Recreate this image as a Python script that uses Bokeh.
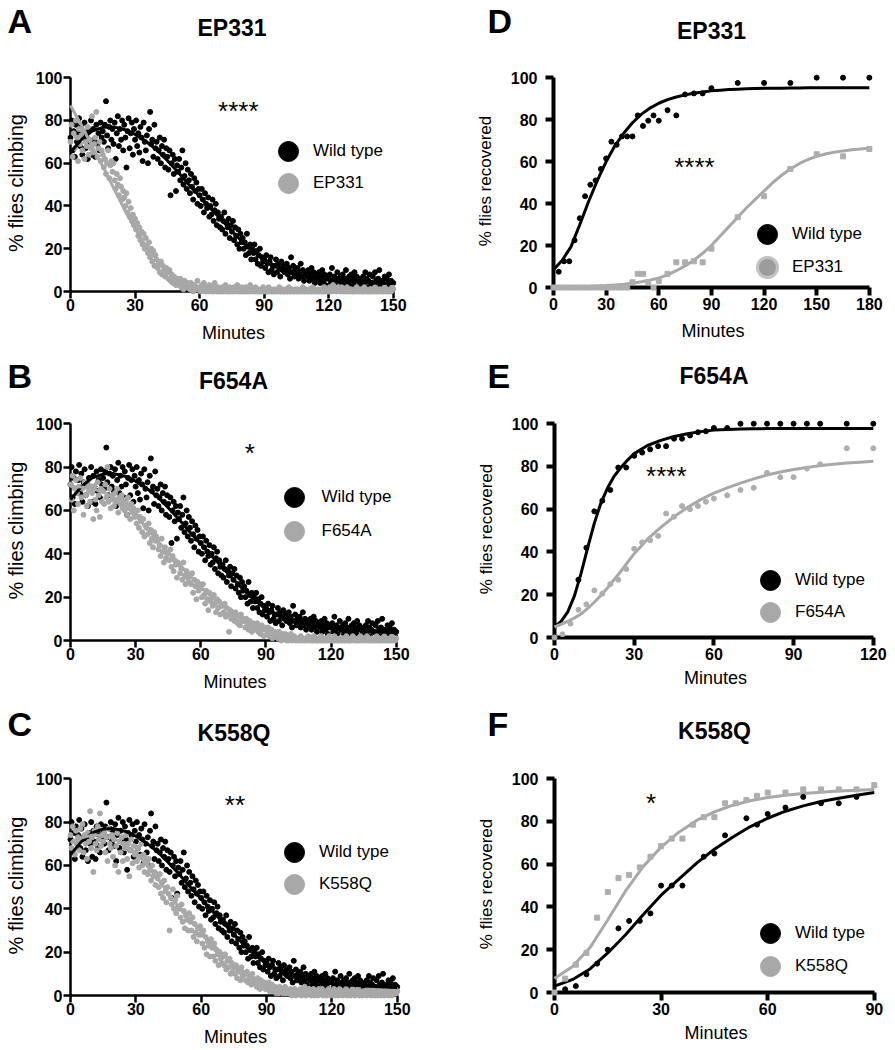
import numpy as np
from bokeh.plotting import figure
from bokeh.layouts import column, row
from bokeh.models import Range1d, FixedTicker, Label, Legend, LegendItem
from bokeh.embed import file_html
from bokeh.resources import INLINE

FONT = "Liberation Sans"
BLACK = "#000000"
GRAY = "#a8a8a8"
HEADER_H = 56

# ------------------------------------------------------------------ data
# climbing assays (A-C): % flies climbing, one reading every half minute
climb_minutes = [i / 2 for i in range(301)]

wt_climb = [
    72, 80, 66, 75, 63, 78, 70, 74, 81, 68,
    77, 64, 73, 79, 67, 72, 62, 75, 70, 80,
    64, 76, 71, 63, 78, 69, 74, 66, 79, 72,
    75, 70, 78, 89, 73, 67, 77, 80, 71, 76,
    69, 79, 62, 74, 82, 68, 76, 71, 80, 66,
    78, 72, 58, 75, 81, 67, 74, 79, 64, 76,
    71, 80, 68, 74, 65, 77, 72, 61, 79, 70,
    66, 73, 60, 76, 84, 69, 71, 63, 78, 67,
    70, 62, 66, 72, 60, 68, 64, 71, 58, 67,
    63, 57, 66, 45, 60, 64, 55, 62, 47, 59,
    56, 62, 52, 58, 66, 50, 54, 60, 48, 57,
    52, 46, 55, 49, 43, 53, 47, 51, 41, 48,
    45, 40, 48, 43, 37, 46, 41, 39, 44, 35,
    40, 36, 43, 33, 38, 41, 31, 37, 34, 30,
    35, 29, 33, 37, 27, 32, 30, 34, 25, 31,
    28, 33, 24, 30, 26, 22, 29, 20, 27, 23,
    25, 20, 23, 17, 27, 21, 18, 22, 15, 20,
    18, 22, 15, 19, 13, 17, 20, 12, 16, 14,
    15, 11, 17, 13, 9, 14, 16, 10, 12, 8,
    12, 15, 9, 13, 11, 7, 14, 10, 12, 9,
    10, 13, 8, 11, 6, 16, 9, 12, 7, 10,
    8, 11, 6, 9, 13, 7, 10, 5, 9, 8,
    7, 10, 5, 8, 11, 6, 9, 4, 7, 8,
    6, 9, 4, 7, 10, 5, 8, 3, 6, 7,
    6, 8, 4, 11, 5, 7, 3, 6, 9, 5,
    5, 7, 3, 8, 4, 6, 10, 5, 3, 7,
    4, 8, 6, 3, 9, 5, 7, 2, 6, 4,
    5, 3, 7, 4, 9, 6, 2, 5, 8, 4,
    4, 7, 3, 9, 5, 2, 6, 10, 4, 3,
    5, 3, 7, 2, 6, 4, 8, 3, 5, 2,
    4,
]

ep331_climb = [
    70, 78, 63, 74, 67, 80, 72, 61, 76, 69,
    73, 66, 75, 62, 70, 68, 77, 64, 71, 67,
    82, 65, 69, 72, 84, 63, 67, 70, 61, 66,
    64, 58, 62, 55, 60, 66, 53, 59, 61, 56,
    60, 52, 48, 55, 50, 45, 53, 49, 43, 47,
    44, 40, 46, 37, 42, 35, 39, 33, 36, 31,
    34, 29, 32, 26, 30, 24, 28, 22, 27, 20,
    25, 21, 18, 23, 16, 20, 14, 19, 12, 17,
    15, 11, 13, 9, 14, 8, 12, 10, 7, 11,
    9, 6, 10, 5, 8, 4, 7, 5, 3, 6,
    5, 3, 6, 2, 4, 1, 5, 3, 2, 4,
    3, 1, 4, 2, 0, 3, 1, 2, 5, 1,
    2, 0, 3, 1, 4, 0, 2, 1, 0, 3,
    1, 0, 2, 0, 4, 1, 0, 2, 0, 1,
    0, 2, 0, 1, 3, 0, 1, 0, 2, 0,
    1, 0, 2, 0, 1, 3, 0, 1, 0, 2,
    0, 1, 0, 2, 0, 1, 0, 3, 0, 1,
    1, 0, 2, 0, 1, 0, 0, 1, 0, 2,
    0, 1, 0, 0, 2, 0, 1, 0, 0, 1,
    0, 0, 1, 0, 2, 0, 0, 1, 0, 0,
    1, 0, 0, 2, 0, 0, 1, 0, 0, 1,
    0, 1, 0, 0, 1, 0, 2, 0, 0, 1,
    0, 0, 1, 0, 0, 2, 0, 1, 0, 0,
    1, 0, 0, 1, 0, 0, 2, 0, 1, 0,
    0, 2, 1, 0, 3, 1, 2, 0, 1, 2,
    1, 0, 2, 1, 0, 1, 0, 2, 0, 1,
    0, 1, 0, 0, 1, 0, 2, 0, 1, 0,
    1, 0, 0, 2, 0, 1, 0, 0, 1, 0,
    0, 1, 0, 2, 0, 0, 1, 0, 1, 0,
    1, 0, 2, 0, 1, 0, 0, 1, 0, 2,
    1,
]

f654a_climb = [
    72, 65, 76, 60, 70, 74, 68, 63, 71, 75,
    66, 70, 58, 73, 67, 62, 72, 69, 64, 71,
    68, 56, 71, 65, 60, 73, 67, 57, 70, 64,
    69, 63, 72, 66, 80, 64, 70, 61, 67, 65,
    62, 68, 64, 70, 59, 66, 63, 67, 61, 65,
    60, 64, 58, 66, 62, 56, 63, 59, 61, 57,
    58, 54, 60, 52, 57, 55, 50, 56, 48, 53,
    52, 49, 54, 45, 51, 47, 43, 50, 46, 48,
    46, 42, 44, 39, 47, 41, 36, 43, 38, 40,
    40, 37, 42, 34, 39, 32, 37, 35, 29, 36,
    35, 31, 33, 28, 36, 30, 26, 32, 29, 27,
    30, 26, 31, 22, 28, 25, 19, 27, 23, 26,
    24, 20, 26, 21, 17, 23, 19, 14, 22, 18,
    20, 16, 21, 17, 13, 19, 15, 18, 12, 16,
    16, 13, 17, 11, 15, 12, 4, 14, 10, 13,
    12, 9, 13, 10, 8, 11, 7, 12, 9, 10,
    9, 6, 10, 8, 5, 9, 7, 4, 8, 6,
    7, 5, 8, 4, 6, 3, 7, 5, 2, 6,
    5, 3, 6, 2, 4, 5, 1, 3, 4, 2,
    3, 1, 4, 2, 0, 3, 2, 1, 3, 0,
    2, 0, 1, 3, 0, 1, 2, 0, 1, 0,
    1, 0, 2, 0, 1, 0, 0, 1, 0, 2,
    0, 1, 0, 0, 2, 0, 1, 0, 0, 1,
    0, 2, 0, 1, 0, 0, 1, 0, 2, 0,
    1, 0, 0, 2, 0, 1, 0, 0, 1, 0,
    0, 1, 0, 0, 2, 0, 1, 0, 0, 1,
    2, 0, 1, 0, 0, 1, 0, 2, 0, 1,
    0, 1, 0, 2, 0, 1, 0, 0, 1, 0,
    1, 0, 2, 0, 1, 0, 0, 1, 0, 2,
    0, 1, 0, 0, 1, 0, 2, 0, 1, 0,
    1,
]

k558q_climb = [
    74, 68, 78, 71, 65, 76, 70, 73, 67, 77,
    72, 79, 66, 74, 70, 63, 75, 71, 85, 68,
    73, 57, 76, 70, 67, 78, 72, 84, 69, 74,
    71, 75, 66, 73, 62, 77, 70, 68, 74, 64,
    72, 60, 69, 75, 57, 71, 66, 73, 62, 70,
    68, 74, 63, 70, 55, 67, 72, 61, 69, 65,
    66, 62, 68, 59, 64, 70, 60, 65, 57, 63,
    61, 56, 63, 58, 53, 60, 55, 57, 51, 56,
    54, 50, 56, 47, 52, 45, 53, 48, 43, 50,
    47, 30, 45, 42, 49, 40, 44, 38, 46, 41,
    40, 36, 42, 34, 39, 31, 37, 35, 30, 38,
    34, 30, 36, 27, 33, 29, 25, 31, 28, 32,
    28, 24, 30, 22, 27, 19, 25, 23, 18, 26,
    22, 18, 24, 16, 21, 19, 14, 20, 17, 15,
    18, 14, 19, 12, 16, 13, 17, 10, 15, 11,
    13, 10, 14, 8, 12, 11, 7, 13, 9, 10,
    10, 7, 11, 6, 9, 8, 5, 10, 7, 6,
    7, 4, 8, 6, 3, 7, 5, 4, 6, 3,
    5, 3, 6, 2, 4, 5, 2, 3, 4, 1,
    3, 1, 4, 2, 3, 1, 2, 4, 1, 2,
    2, 1, 3, 0, 2, 1, 3, 0, 1, 2,
    1, 3, 0, 2, 1, 4, 0, 2, 1, 3,
    2, 0, 1, 3, 0, 2, 1, 0, 3, 1,
    1, 3, 0, 2, 1, 0, 2, 3, 1, 0,
    2, 1, 3, 0, 1, 2, 0, 3, 1, 2,
    0, 2, 1, 3, 0, 1, 2, 0, 1, 3,
    1, 0, 2, 1, 3, 0, 2, 1, 0, 2,
    2, 1, 0, 3, 1, 2, 0, 1, 3, 0,
    1, 2, 0, 1, 3, 0, 2, 1, 0, 2,
    3, 1, 0, 2, 1, 0, 2, 1, 3, 1,
    2,
]

# fitted curves for the climbing assays, read every 5 minutes
climb_fit_minutes = [0, 5, 10, 15, 20, 25, 30, 35, 40, 45, 50, 55, 60, 65, 70, 75,
                     80, 85, 90, 95, 100, 105, 110, 115, 120, 125, 130, 135, 140, 145, 150]
wt_climb_fit = [65, 71, 75, 76.8, 77, 75.8, 73.5, 70.3, 66.3, 61.3, 55.8, 50, 44.5, 39, 33.7, 28.3,
                23, 18.5, 15, 12, 9.8, 8.2, 7, 6.2, 5.6, 5.1, 4.7, 4.4, 4.1, 3.9, 3.7]
ep331_climb_fit = [87, 78, 68, 58.5, 48.5, 38.5, 29.5, 21.5, 15, 9.8, 6, 3.5, 2, 1.2, 0.8, 0.7,
                   0.6, 0.6, 0.6, 0.6, 0.6, 0.6, 0.6, 0.6, 0.6, 0.6, 0.6, 0.6, 0.6, 0.6, 0.6]
f654a_climb_fit = [71, 70.8, 70, 68.5, 66, 62.5, 57.5, 52, 46, 40.5, 35.3, 30, 24.5, 20, 16, 12.5,
                   9.2, 6.8, 4.9, 3.2, 1.8, 1, 0.6, 0.4, 0.3, 0.3, 0.3, 0.3, 0.3, 0.3, 0.3]
k558q_climb_fit = [70.5, 72.8, 74, 73.8, 72.3, 69.5, 65.5, 60.3, 54, 47, 40.5, 35, 29.5, 24, 19, 14.5,
                   10.8, 7.8, 5.3, 3.4, 2.1, 1.2, 0.7, 0.5, 0.4, 0.4, 0.4, 0.4, 0.4, 0.4, 0.4]

# recovery assays (D-F): % flies recovered
ep331_wt_rec_minutes = [3, 6, 9, 12, 15, 18, 21, 24, 27, 30, 33, 36, 39, 42, 45, 48, 51, 54, 57, 60,
                        65, 70, 75, 80, 85, 90, 105, 120, 135, 150, 165, 180]
ep331_wt_rec = [7.5, 12.5, 12.5, 22.5, 33, 43.5, 49, 51, 56.5, 61.5, 69.5, 68, 72, 72, 72, 82, 77, 79.5, 82, 79.5,
                84.5, 82, 92, 92.5, 92.5, 95, 97.5, 97.5, 97.5, 100, 100, 100]
ep331_mut_rec_minutes = [0, 3, 6, 9, 12, 15, 18, 21, 24, 27, 30, 33, 36, 39, 42, 45, 48, 51, 54, 57, 60,
                         65, 70, 75, 80, 85, 90, 105, 120, 135, 150, 165, 180]
ep331_mut_rec = [0, 0, 0, 0, 0, 0, 0, 0, 0, 0, 0, 0, 0, 0, 0, 2.5, 6.5, 6.5, 2.5, 0, 3,
                 6.5, 12, 12, 12.5, 12, 18.5, 33.5, 43.5, 56.5, 63.5, 62.5, 66]
ep331_rec_fit_minutes = [0, 5, 10, 15, 20, 25, 30, 35, 40, 45, 50, 55, 60, 65, 70, 75, 80, 85, 90,
                         95, 100, 105, 110, 115, 120, 125, 130, 135, 140, 145, 150, 155, 160, 165, 170, 175, 180]
ep331_wt_rec_fit = [8.5, 13, 19.5, 30, 41, 51, 60, 67.5, 73.5, 78.5, 82.5, 85.5, 87.8, 89.5, 90.8, 91.8, 92.6, 93.2, 93.7,
                    94, 94.3, 94.5, 94.7, 94.8, 94.9, 95, 95, 95.1, 95.1, 95.2, 95.2, 95.2, 95.2, 95.2, 95.2, 95.2, 95.2]
ep331_mut_rec_fit = [0.2, 0.25, 0.3, 0.4, 0.5, 0.7, 0.9, 1.2, 1.5, 2, 2.7, 3.5, 4.5, 6, 8, 10.3, 13, 16.3, 20,
                     24.5, 29, 33.5, 38, 42, 46, 50, 53.5, 56.5, 59, 61, 62.5, 63.6, 64.5, 65.1, 65.6, 66, 66.3]

f654a_wt_rec_minutes = [9, 12, 15, 18, 21, 24, 27, 30, 33, 36, 39, 42, 45, 48, 51, 54, 57, 60,
                        65, 70, 75, 80, 85, 90, 95, 100, 110, 120]
f654a_wt_rec = [27, 42, 59, 64, 69, 79.5, 79.5, 85, 86.5, 88, 89.5, 89.5, 93, 93, 94.5, 96, 96.5, 98,
                98, 100, 100, 100, 100, 100, 100, 100, 100, 100]
f654a_mut_rec_minutes = [0, 3, 6, 9, 12, 15, 18, 21, 24, 27, 30, 33, 36, 39, 42, 45, 48, 51, 54, 57, 60,
                         65, 70, 75, 80, 85, 90, 95, 100, 110, 120]
f654a_mut_rec = [0, 1.5, 6.5, 13, 15.5, 22, 20.5, 25, 27, 32, 41.5, 44.5, 45.5, 47.5, 58, 56.5, 61.5, 60, 61.5, 63.5, 65,
                 66.5, 69, 70, 77, 75, 75, 79, 81, 88.5, 88.5]
f654a_rec_fit_minutes = [0, 2.5, 5, 7.5, 10, 12.5, 15, 17.5, 20, 22.5, 25, 27.5, 30, 35, 40, 45, 50, 55, 60,
                         65, 70, 75, 80, 85, 90, 95, 100, 105, 110, 115, 120]
f654a_wt_rec_fit = [5, 7.5, 12, 19.5, 30, 42, 53.5, 63, 70, 75.5, 79.5, 83, 86, 89.8, 92.2, 94, 95.3, 96.3, 97,
                    97.3, 97.5, 97.6, 97.7, 97.75, 97.8, 97.8, 97.8, 97.8, 97.8, 97.8, 97.8]
f654a_mut_rec_fit = [5, 6.2, 7.5, 9.2, 11, 13.6, 16.5, 19.8, 23.3, 27.2, 31, 35.1, 39.2, 46, 51.5, 56.5, 60.8, 64.5, 67.5,
                     70, 72.2, 74.2, 76, 77.4, 78.6, 79.5, 80.4, 81, 81.6, 82, 82.4]

k558q_wt_rec_minutes = [3, 6, 9, 12, 15, 18, 21, 24, 27, 30, 33, 36, 42, 45, 48, 54, 57, 60, 65, 70, 75, 80, 85]
k558q_wt_rec = [1.5, 3, 8.5, 13.5, 20, 30, 33.5, 33.5, 37, 50, 50, 50, 63.5, 65, 73.5, 81.5, 78.5, 83.5, 86.5, 91.5,
                88.5, 88.5, 91.5]
k558q_mut_rec_minutes = [0, 3, 6, 9, 12, 15, 18, 21, 24, 27, 30, 33, 36, 39, 42, 45, 48, 51, 54, 57, 60,
                         65, 70, 75, 80, 85, 90]
k558q_mut_rec = [0, 6.5, 13, 18.5, 35, 47, 53.5, 55, 58.5, 63.5, 68.5, 72, 72, 78.5, 82, 82, 88.5, 88.5, 90, 92, 93.5,
                 93.5, 95, 95, 95, 95, 97]
k558q_rec_fit_minutes = [0, 5, 10, 15, 20, 25, 30, 35, 40, 45, 50, 55, 60, 65, 70, 75, 80, 85, 90]
k558q_wt_rec_fit = [3, 6, 11, 18.5, 27, 36.5, 45.5, 53, 60.5, 67, 72.5, 77.5, 81.5, 84.8, 87.3, 89.3, 90.9, 92.3, 93.5]
k558q_mut_rec_fit = [6.5, 12, 21, 34, 47.5, 59, 68, 75, 80.5, 84.5, 87.5, 89.7, 91.2, 92.3, 93.1, 93.7, 94.2, 94.6, 94.9]

climb_ticks = [0, 30, 60, 90, 120, 150]
percent_ticks = [0, 20, 40, 60, 80, 100]


# ------------------------------------------------------------------ helpers
def header(c):
    """Strip above a panel holding the panel letter and the panel title."""
    h = figure(width=c["W"], height=HEADER_H, x_range=Range1d(0, 1), y_range=Range1d(0, 1),
               x_axis_location=None, y_axis_location=None, min_border=0,
               output_backend="svg", toolbar_location=None,
               background_fill_color="white", border_fill_color="white")
    h.outline_line_color = None
    h.grid.visible = False
    h.add_layout(Label(x=c["letter_xy"][0], y=c["letter_xy"][1], x_units="screen", y_units="screen",
                       text=c["letter"], text_font=FONT, text_font_style="bold", text_font_size="34px",
                       text_baseline="middle", text_align="left", text_color=BLACK))
    h.add_layout(Label(x=c["L"] + c["w"] / 2, y=c["title_y"], x_units="screen", y_units="screen",
                       text=c["title"], text_font=FONT, text_font_style="bold", text_font_size="23px",
                       text_baseline="middle", text_align="center", text_color=BLACK))
    return h


def base_panel(c):
    xmax = c["xmax"]
    fw = round(c["w"] * 1.01)
    fh = round(c["h"] * 1.015)
    p = figure(frame_width=fw, frame_height=fh,
               x_range=Range1d(0, xmax * 1.01), y_range=Range1d(0, 101.5),
               min_border_left=c["L"], min_border_right=c["W"] - c["L"] - fw,
               min_border_top=c["T"] - (fh - c["h"]) - HEADER_H, min_border_bottom=c["B"],
               output_backend="svg", toolbar_location=None,
               background_fill_color="white", border_fill_color="white")
    p.outline_line_color = None
    p.xgrid.visible = False
    p.ygrid.visible = False
    xa, ya = p.xaxis[0], p.yaxis[0]
    xa.ticker = FixedTicker(ticks=c["xticks"])
    ya.ticker = FixedTicker(ticks=percent_ticks)
    xa.bounds = (0, xmax)
    ya.bounds = (0, 100)
    for ax in (xa, ya):
        ax.axis_line_width = c["lw"]
        ax.axis_line_color = BLACK
        ax.major_tick_line_width = c["lw"]
        ax.major_tick_line_color = BLACK
        ax.major_tick_in = 0
        ax.major_tick_out = c["tick"]
        ax.minor_tick_line_color = None
        ax.major_label_text_font = FONT
        ax.major_label_text_font_style = "bold"
        ax.major_label_text_font_size = "16px"
        ax.major_label_text_color = BLACK
        ax.axis_label_text_font = FONT
        ax.axis_label_text_font_style = "normal"
        ax.axis_label_text_color = BLACK
    xa.axis_label = "Minutes"
    xa.axis_label_text_font_size = "18px"
    xa.axis_label_standoff = c["xls"]
    xa.major_label_standoff = c["xts"]
    ya.axis_label = c["ylabel"]
    ya.axis_label_text_font_size = c["ylsize"]
    ya.axis_label_standoff = c["yls"]
    ya.major_label_standoff = c["yts"]
    # significance stars
    p.add_layout(Label(x=c["star_xy"][0], y=c["star_xy"][1], text=c["stars"], text_font=FONT,
                       text_font_size="26px", text_baseline="middle", text_align="center",
                       text_color=BLACK))
    return p


def add_legend(p, c, mut_label, gray_fill, gray_line, gray_lw):
    nan = np.array([np.nan])
    r_wt = p.scatter(x=nan, y=nan, marker="circle", fill_color=BLACK, line_color=BLACK)
    r_mut = p.scatter(x=nan, y=nan, marker="circle", fill_color=gray_fill, line_color=gray_line,
                      line_width=gray_lw)
    for label, rend, loc in (("Wild type", r_wt, c["leg_wt"]), (mut_label, r_mut, c["leg_mut"])):
        leg = Legend(items=[LegendItem(label=label, renderers=[rend])],
                     location=loc, glyph_width=50, glyph_height=50,
                     label_standoff=c["leg_ls"], padding=0, margin=0,
                     border_line_color=None, background_fill_alpha=0,
                     label_text_font=FONT, label_text_font_size="17px", label_text_color=BLACK)
        p.add_layout(leg)


def climb_panel(c, mut_values, mut_fit, mut_label):
    p = base_panel(c)
    p.scatter(climb_minutes, wt_climb, marker="circle", size=5, color=BLACK, level="overlay")
    p.scatter(climb_minutes, mut_values, marker="circle", size=5, color=GRAY, level="overlay")
    p.line(climb_fit_minutes, wt_climb_fit, line_color=BLACK, line_width=3, level="overlay")
    p.line(climb_fit_minutes, mut_fit, line_color=GRAY, line_width=3, level="overlay")
    add_legend(p, c, mut_label, GRAY, GRAY, 1)
    return p


def recovery_panel(c, wt_x, wt_y, mut_x, mut_y, fit_x, wt_fit, mut_fit, mut_label, mut_marker,
                   gray_fill, gray_line, gray_lw):
    p = base_panel(c)
    p.line(fit_x, wt_fit, line_color=BLACK, line_width=3, level="overlay")
    p.line(fit_x, mut_fit, line_color=GRAY, line_width=3, level="overlay")
    p.scatter(wt_x, wt_y, marker="circle", size=5, color=BLACK, level="overlay")
    p.scatter(mut_x, mut_y, marker=mut_marker, size=5, color="#aeaeae", level="overlay")
    add_legend(p, c, mut_label, gray_fill, gray_line, gray_lw)
    return p


left_common = dict(xmax=150, xticks=climb_ticks, L=70, W=450, lw=2.5, tick=7, xts=0, yts=1, yls=6,
                   ylabel="% flies climbing", ylsize="20px")
right_common = dict(W=440, lw=4, tick=8, xts=2, yts=8, yls=13,
                    ylabel="% flies recovered", ylsize="17px")

cfg_a = dict(left_common, T=74, w=323, h=214, B=62, xls=9, letter="A", letter_xy=(7, 35.8),
             title="EP331", title_y=29, stars="****", star_xy=(78, 84.2),
             leg_wt=(193, 115), leg_mut=(193, 83), leg_ls=0)
cfg_b = dict(left_common, T=73, w=326, h=217, B=60, xls=9, letter="B", letter_xy=(7, 30.8),
             title="F654A", title_y=26, stars="*", star_xy=(82.6, 86.5),
             leg_wt=(198.5, 118), leg_mut=(198.5, 84.5), leg_ls=3)
cfg_c = dict(left_common, T=76, w=327, h=217, B=55, xls=9, letter="C", letter_xy=(7, 32.8),
             title="K558Q", title_y=24, stars="**", star_xy=(75.5, 87.8),
             leg_wt=(199, 118), leg_mut=(199, 86), leg_ls=0)
cfg_d = dict(right_common, L=103, xmax=180, xticks=[0, 30, 60, 90, 120, 150, 180], T=77, w=316, h=210, B=63,
             xls=8, letter="D", letter_xy=(37, 35.8), title="EP331", title_y=26, stars="****",
             star_xy=(80.3, 57.5), leg_wt=(189, 28), leg_mut=(189, -5), leg_ls=0)
cfg_e = dict(right_common, L=104, xmax=120, xticks=[0, 30, 60, 90, 120], T=73, w=319, h=214, B=63,
             xls=5, letter="E", letter_xy=(37, 30.8), title="F654A", title_y=31, stars="****",
             star_xy=(42.1, 75.6), leg_wt=(191, 32), leg_mut=(191, 0), leg_ls=0)
cfg_f = dict(right_common, L=104, xmax=90, xticks=[0, 30, 60, 90], T=78, w=320, h=214, B=56,
             xls=5, letter="F", letter_xy=(37, 32.8), title="K558Q", title_y=26, stars="*",
             star_xy=(27.2, 88.8), leg_wt=(191, 34), leg_mut=(191, 1), leg_ls=0)

pa = climb_panel(cfg_a, ep331_climb, ep331_climb_fit, "EP331")
pb = climb_panel(cfg_b, f654a_climb, f654a_climb_fit, "F654A")
pc = climb_panel(cfg_c, k558q_climb, k558q_climb_fit, "K558Q")
pd = recovery_panel(cfg_d, ep331_wt_rec_minutes, ep331_wt_rec, ep331_mut_rec_minutes, ep331_mut_rec,
                    ep331_rec_fit_minutes, ep331_wt_rec_fit, ep331_mut_rec_fit, "EP331", "square",
                    "#9c9c9c", "#c2c2c2", 3)
pe = recovery_panel(cfg_e, f654a_wt_rec_minutes, f654a_wt_rec, f654a_mut_rec_minutes, f654a_mut_rec,
                    f654a_rec_fit_minutes, f654a_wt_rec_fit, f654a_mut_rec_fit, "F654A", "circle",
                    GRAY, GRAY, 1)
pf = recovery_panel(cfg_f, k558q_wt_rec_minutes, k558q_wt_rec, k558q_mut_rec_minutes, k558q_mut_rec,
                    k558q_rec_fit_minutes, k558q_wt_rec_fit, k558q_mut_rec_fit, "K558Q", "square",
                    GRAY, GRAY, 1)

layout = column(
    row(header(cfg_a), header(cfg_d)), row(pa, pd),
    row(header(cfg_b), header(cfg_e)), row(pb, pe),
    row(header(cfg_c), header(cfg_f)), row(pc, pf),
)

with open("out.html", "w") as fh:
    fh.write(file_html(layout, INLINE))
